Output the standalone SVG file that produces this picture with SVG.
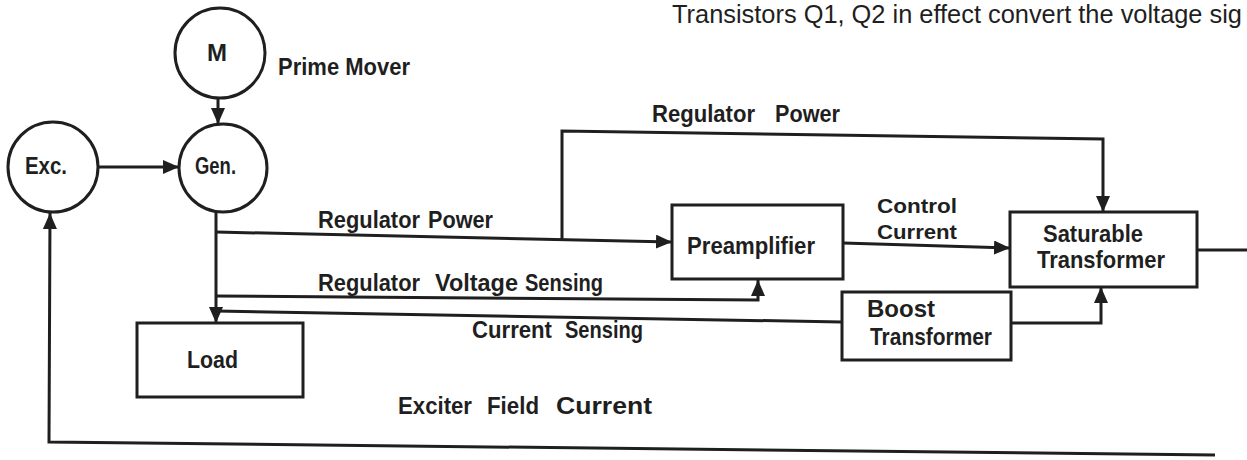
<svg xmlns="http://www.w3.org/2000/svg" width="1247" height="460" viewBox="0 0 1247 460">
<style>
  .shape { fill: none; stroke: #1f1f1f; stroke-width: 3; }
  .wire { fill: none; stroke: #1f1f1f; stroke-width: 3; stroke-linejoin: miter; }
  .lbl { font-family: "Liberation Sans", Arial, sans-serif; font-weight: bold; font-size: 24px; fill: #1f1f1f; }
  .sm { font-family: "Liberation Sans", Arial, sans-serif; font-weight: bold; font-size: 20px; fill: #1f1f1f; }
  .page { font-family: "Liberation Sans", Arial, sans-serif; font-size: 25px; fill: #1f1f1f; }
</style>
<defs>
  <marker id="ah" markerUnits="userSpaceOnUse" markerWidth="16" markerHeight="14" refX="16" refY="7" orient="auto">
    <path d="M0,0 L16,7 L0,14 z" fill="#1f1f1f"/>
  </marker>
</defs>
<rect width="1247" height="460" fill="#ffffff"/>

<text class="page" x="672" y="23" textLength="570" lengthAdjust="spacingAndGlyphs">Transistors Q1, Q2 in effect convert the voltage sig</text>

<g id="prime-mover">
  <circle class="shape" cx="220" cy="53" r="45"/>
  <text class="lbl" x="217" y="61" text-anchor="middle" font-size="24">M</text>
  <text class="lbl" x="278" y="75" textLength="132" lengthAdjust="spacingAndGlyphs">Prime Mover</text>
</g>

<g id="exciter">
  <circle class="shape" cx="53" cy="167" r="45"/>
  <text class="lbl" x="25" y="174" textLength="42" lengthAdjust="spacingAndGlyphs">Exc.</text>
</g>

<g id="generator">
  <circle class="shape" cx="223" cy="168" r="44"/>
  <text class="lbl" x="195" y="174" textLength="41" lengthAdjust="spacingAndGlyphs">Gen.</text>
</g>

<g id="load">
  <rect class="shape" x="137" y="323" width="166" height="74"/>
  <text class="lbl" x="187" y="368" textLength="51" lengthAdjust="spacingAndGlyphs">Load</text>
</g>

<g id="preamplifier">
  <rect class="shape" x="672" y="205" width="171" height="74"/>
  <text class="lbl" x="687" y="254" textLength="128" lengthAdjust="spacingAndGlyphs">Preamplifier</text>
</g>

<g id="saturable-transformer">
  <rect class="shape" x="1010" y="212" width="187" height="75"/>
  <text class="lbl" x="1043" y="242" textLength="100" lengthAdjust="spacingAndGlyphs">Saturable</text>
  <text class="lbl" x="1037" y="268" textLength="128" lengthAdjust="spacingAndGlyphs">Transformer</text>
</g>

<g id="boost-transformer">
  <rect class="shape" x="842" y="292" width="169" height="68"/>
  <text class="lbl" x="867" y="317" textLength="68" lengthAdjust="spacingAndGlyphs">Boost</text>
  <text class="lbl" x="870" y="345" textLength="122" lengthAdjust="spacingAndGlyphs">Transformer</text>
</g>

<g id="connectors">
  <line class="wire" x1="218" y1="98" x2="218" y2="124" marker-end="url(#ah)"/>
  <line class="wire" x1="98" y1="167" x2="179" y2="167" marker-end="url(#ah)"/>
  <line class="wire" x1="216" y1="212" x2="216" y2="323" marker-end="url(#ah)"/>
  <line class="wire" x1="216" y1="232" x2="672" y2="242" marker-end="url(#ah)"/>
  <polyline class="wire" points="562,240 562,131 1103,139 1103,212" marker-end="url(#ah)"/>
  <polyline class="wire" points="216,296 758,300 758,280" marker-end="url(#ah)"/>
  <line class="wire" x1="216" y1="311" x2="842" y2="322"/>
  <line class="wire" x1="843" y1="243" x2="1010" y2="248" marker-end="url(#ah)"/>
  <polyline class="wire" points="1011,323 1101,323 1101,287" marker-end="url(#ah)"/>
  <line class="wire" x1="1197" y1="250" x2="1247" y2="250"/>
  <polyline class="wire" points="1215,455 49,442 50,213" marker-end="url(#ah)"/>

  <text class="lbl" x="652" y="122"><tspan textLength="103" lengthAdjust="spacingAndGlyphs">Regulator</tspan><tspan x="775" textLength="65" lengthAdjust="spacingAndGlyphs">Power</tspan></text>
  <text class="lbl" x="318" y="228"><tspan textLength="102" lengthAdjust="spacingAndGlyphs">Regulator</tspan><tspan x="428" textLength="65" lengthAdjust="spacingAndGlyphs">Power</tspan></text>
  <text class="lbl" x="318" y="291"><tspan textLength="102" lengthAdjust="spacingAndGlyphs">Regulator</tspan><tspan x="435" textLength="83" lengthAdjust="spacingAndGlyphs">Voltage</tspan><tspan x="525" textLength="78" lengthAdjust="spacingAndGlyphs">Sensing</tspan></text>
  <text class="lbl" x="472" y="338"><tspan textLength="80" lengthAdjust="spacingAndGlyphs">Current</tspan><tspan x="565" textLength="78" lengthAdjust="spacingAndGlyphs">Sensing</tspan></text>
  <text class="sm" x="877" y="213" textLength="80" lengthAdjust="spacingAndGlyphs">Control</text>
  <text class="sm" x="877" y="239" textLength="80" lengthAdjust="spacingAndGlyphs">Current</text>
  <text class="lbl" x="398" y="414"><tspan textLength="74" lengthAdjust="spacingAndGlyphs">Exciter</tspan><tspan x="487" textLength="52" lengthAdjust="spacingAndGlyphs">Field</tspan><tspan x="556" textLength="96" lengthAdjust="spacingAndGlyphs">Current</tspan></text>
</g>
</svg>
